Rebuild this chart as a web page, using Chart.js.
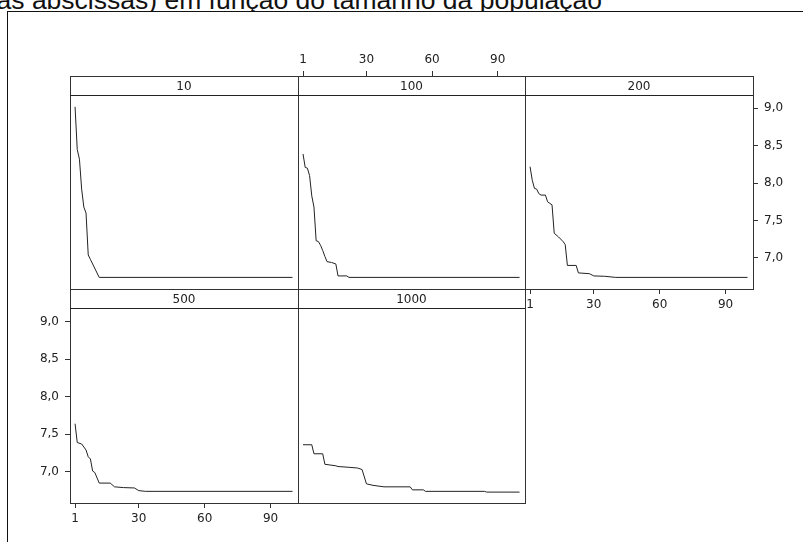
<!DOCTYPE html>
<html>
<head>
<meta charset="utf-8">
<script src="https://cdn.jsdelivr.net/npm/chart.js@4"></script>
<style>
  html, body { margin: 0; padding: 0; background: #fff; overflow: hidden; }
  body { width: 803px; height: 542px; position: relative; }
  #title {
    position: absolute; left: -300px; top: -15px; width: 902px;
    text-align: right; white-space: nowrap;
    font: 26.5px "Liberation Sans", Arial, sans-serif; line-height: 30px; color: #111;
  }
  #frame {
    position: absolute; left: 7px; top: 11px; width: 900px; height: 600px;
    border: 1px solid #111; background: #fff;
  }
  .panel { position: absolute; }
  .strip {
    position: absolute; height: 19px; border-bottom: 1px solid #222;
    text-align: center; font: 12px "DejaVu Sans", sans-serif; line-height: 20px; color: #222;
  }
</style>
</head>
<body>
<div id="title">as abscissas) em função do tamanho da população</div>
<div id="frame"></div>
<div id="panels"></div>
<script>
document.addEventListener('DOMContentLoaded', () => {
    // --- DATA (generation vs best value) ---
    const popSizes = ['10', '100', '200', '500', '1000'];

    const gens10 = [1, 2, 3, 4, 5, 6, 7, 8, 12, 100];
    const fit10 = [9.02, 8.45, 8.32, 7.92, 7.68, 7.60, 7.04, 6.98, 6.74, 6.74];

    const gens100 = [1, 2, 3, 4, 5, 6, 7, 8, 9, 10, 11, 12, 14, 16, 17, 21, 22, 100];
    const fit100 = [8.39, 8.21, 8.20, 8.10, 7.83, 7.68, 7.23, 7.22, 7.17, 7.10, 7.02, 6.95, 6.94, 6.92, 6.76, 6.76, 6.74, 6.74];

    const gens200 = [1, 2, 3, 4, 5, 6, 8, 9, 11, 12, 14, 16, 17, 18, 22, 23, 28, 30, 35, 40, 100];
    const fit200 = [8.22, 8.04, 7.93, 7.92, 7.86, 7.84, 7.84, 7.75, 7.71, 7.33, 7.28, 7.22, 7.18, 6.90, 6.90, 6.80, 6.79, 6.76, 6.755, 6.74, 6.74];

    const gens500 = [1, 2, 4, 5, 6, 7, 8, 9, 10, 12, 17, 19, 23, 28, 30, 33, 100];
    const fit500 = [7.64, 7.39, 7.37, 7.33, 7.29, 7.20, 7.17, 7.01, 6.99, 6.85, 6.85, 6.80, 6.79, 6.785, 6.75, 6.74, 6.74];

    const gens1000 = [1, 5, 6, 10, 11, 16, 17, 22, 26, 28, 30, 33, 38, 50, 51, 56, 57, 84, 85, 100];
    const fit1000 = [7.36, 7.36, 7.24, 7.24, 7.10, 7.08, 7.07, 7.06, 7.05, 7.03, 6.84, 6.82, 6.80, 6.80, 6.76, 6.76, 6.74, 6.74, 6.73, 6.73];

    const xTicks = [1, 30, 60, 90];
    const yTicks = [7.0, 7.5, 8.0, 8.5, 9.0];

    // --- LAYOUT ---
    const M = 45;             // room around each plot box for axes
    const colX = [70, 298, 525, 753];
    const rowY = [76, 289, 503];
    const X_MIN = -1.3, X_MAX = 102.5;
    const Y_MIN = 6.585, Y_MAX = 9.432;
    const INK = '#333';

    const panels = [
        { label: popSizes[0], gens: gens10, fit: fit10, col: 0, row: 0, show: [] },
        { label: popSizes[1], gens: gens100, fit: fit100, col: 1, row: 0, show: ['top'] },
        { label: popSizes[2], gens: gens200, fit: fit200, col: 2, row: 0, show: ['right', 'bottom'] },
        { label: popSizes[3], gens: gens500, fit: fit500, col: 0, row: 1, show: ['left', 'bottom'] },
        { label: popSizes[4], gens: gens1000, fit: fit1000, col: 1, row: 1, show: [] },
    ];

    const host = document.getElementById('panels');

    const makeAxis = (position, isX, shown) => ({
        type: 'linear',
        position: position,
        min: isX ? X_MIN : Y_MIN,
        max: isX ? X_MAX : Y_MAX,
        afterFit: (s) => { if (isX) s.height = M; else s.width = M; },
        afterBuildTicks: (s) => { s.ticks = (isX ? xTicks : yTicks).map(v => ({ value: v })); },
        grid: { display: shown, drawOnChartArea: false, drawTicks: shown, tickLength: 5, color: INK },
        border: { display: true, color: INK, width: 1 },
        ticks: {
            display: shown,
            autoSkip: false,
            maxRotation: 0,
            padding: isX ? 4 : 6,
            color: '#222',
            font: { family: '"DejaVu Sans", sans-serif', size: 12 },
            callback: (v) => isX ? String(v) : v.toFixed(1).replace('.', ','),
        },
    });

    panels.forEach(p => {
        const w = colX[p.col + 1] - colX[p.col];
        const h = rowY[p.row + 1] - rowY[p.row];
        const wrap = document.createElement('div');
        wrap.className = 'panel';
        wrap.style.left = (colX[p.col] - M) + 'px';
        wrap.style.top = (rowY[p.row] - M) + 'px';
        const canvas = document.createElement('canvas');
        canvas.width = w + 2 * M;
        canvas.height = h + 2 * M;
        wrap.appendChild(canvas);
        host.appendChild(wrap);

        const strip = document.createElement('div');
        strip.className = 'strip';
        strip.style.left = colX[p.col] + 'px';
        strip.style.top = rowY[p.row] + 'px';
        strip.style.width = w + 'px';
        strip.textContent = p.label;
        host.appendChild(strip);

        new Chart(canvas.getContext('2d'), {
            type: 'line',
            data: {
                datasets: [{
                    data: p.gens.map((g, i) => ({ x: g, y: p.fit[i] })),
                    borderColor: '#222',
                    borderWidth: 1,
                    pointRadius: 0,
                    tension: 0,
                    fill: false,
                    xAxisID: 'x',
                    yAxisID: 'y',
                }]
            },
            options: {
                responsive: false,
                animation: false,
                devicePixelRatio: 1,
                layout: { padding: 0 },
                plugins: { legend: { display: false }, tooltip: { enabled: false }, title: { display: false } },
                scales: {
                    x: makeAxis('bottom', true, p.show.includes('bottom')),
                    x2: makeAxis('top', true, p.show.includes('top')),
                    y: makeAxis('left', false, p.show.includes('left')),
                    y2: makeAxis('right', false, p.show.includes('right')),
                }
            }
        });
    });
});
</script>
</body>
</html>
